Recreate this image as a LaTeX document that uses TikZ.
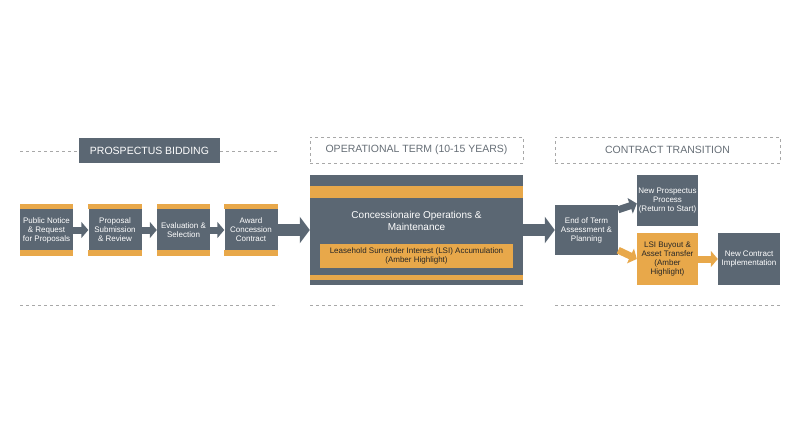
\documentclass[tikz,border=0pt]{standalone}
\usepackage{fontspec}
\setmainfont{Liberation Sans}
\usetikzlibrary{positioning,arrows.meta}
\definecolor{slate}{HTML}{5B6773}
\definecolor{amber}{HTML}{E8A84A}
\definecolor{rule}{HTML}{A8A8A8}
\definecolor{caption}{HTML}{666E76}

\begin{document}
\begin{tikzpicture}[x=1pt,y=-1pt]
\tikzset{
  stepbox/.style={fill=slate,text=white,align=center,inner sep=0pt,font=\fontsize{8}{9}\selectfont},
  ambox/.style={fill=amber,text=black!85,align=center,inner sep=0pt,font=\fontsize{8}{9}\selectfont},
  phase/.style={draw=rule,dashed,text=caption,inner sep=0pt,font=\fontsize{10.5}{12}\selectfont},
  sep/.style={draw=rule,dashed},
  fat/.style={draw=slate,line width=12pt,-{Triangle[length=10pt,width=26pt]}},
  thin/.style={draw=slate,line width=7pt,-{Triangle[length=7pt,width=16pt]}},
  amarrow/.style={draw=amber,line width=7pt,-{Triangle[length=7pt,width=16pt]}}
}
\useasboundingbox (0,0) rectangle (800,447);
% phase headings
\draw [sep] (20,151) -- (79,151);
\draw [sep] (220,151) -- (278,151);
\node [fill=slate,text=white,minimum width=141pt,minimum height=25pt,inner sep=0pt,font=\fontsize{10.5}{12}\selectfont] (bid) at (149.5,150.5) {PROSPECTUS BIDDING};
\node [phase,minimum width=213pt,minimum height=26pt] (op) at (416.5,150) {OPERATIONAL TERM (10-15 YEARS)};
\node [phase,minimum width=225pt,minimum height=26pt] (tr) at (667.5,150) {CONTRACT TRANSITION};
\draw [sep] (20,305) -- (278,305);
\draw [sep] (310,305) -- (523,305);
\draw [sep] (555,305) -- (780,305);
% bidding steps
\foreach \n/\x/\t in {notice/46.5/Public Notice\\\& Request\\for Proposals,
                       sub/115/Proposal\\Submission\\\& Review,
                       eval/183.5/Evaluation \&\\Selection,
                       award/251/Award\\Concession\\Contract}{
  \node [stepbox,minimum width=53pt,minimum height=52pt] (\n) at (\x,230) {};
  \fill [amber] (\n.north west) rectangle ([yshift=-5pt]\n.north east);
  \fill [amber] ([yshift=6pt]\n.south west) rectangle (\n.south east);
  \node [text=white,align=center,inner sep=0pt,font=\fontsize{8}{9}\selectfont] at (\n) {\t};
}
\draw [thin] (notice) -- (sub);
\draw [thin] (sub) -- (eval);
\draw [thin] (eval) -- (award);
% operations
\node [stepbox,minimum width=213pt,minimum height=110pt] (ops) at (416.5,230) {};
\fill [amber] (310,186) rectangle (523,198);
\fill [amber] (310,275) rectangle (523,280);
\node [text=white,align=center,font=\fontsize{10}{12.5}\selectfont] (opstxt) at (416.5,221) {Concessionaire Operations \&\\Maintenance};
\node [ambox,minimum width=193pt,minimum height=24pt] (lsi) at (416.5,256) {Leasehold Surrender Interest (LSI) Accumulation\\(Amber Highlight)};
\draw [fat] (award) -- (ops);
% transition
\node [stepbox,minimum width=63pt,minimum height=50pt] (end) at (586.5,230) {End of Term\\Assessment \&\\Planning};
\node [stepbox,minimum width=61pt,minimum height=51pt] (newp) at (667.5,200.5) {New Prospectus\\Process\\(Return to Start)};
\node [ambox,minimum width=61pt,minimum height=52pt] (buy) at (667.5,259) {LSI Buyout \&\\Asset Transfer\\(Amber\\Highlight)};
\node [stepbox,minimum width=62pt,minimum height=52pt] (newc) at (749,259) {New Contract\\Implementation};
\draw [fat] (ops) -- (end);
\draw [thin] ([yshift=-5pt]end.north east) -- ([yshift=-3pt]newp.west);
\draw [amarrow] ([yshift=5pt]end.south east) -- (buy.west);
\draw [amarrow] (buy) -- (newc);
\end{tikzpicture}
\end{document}
